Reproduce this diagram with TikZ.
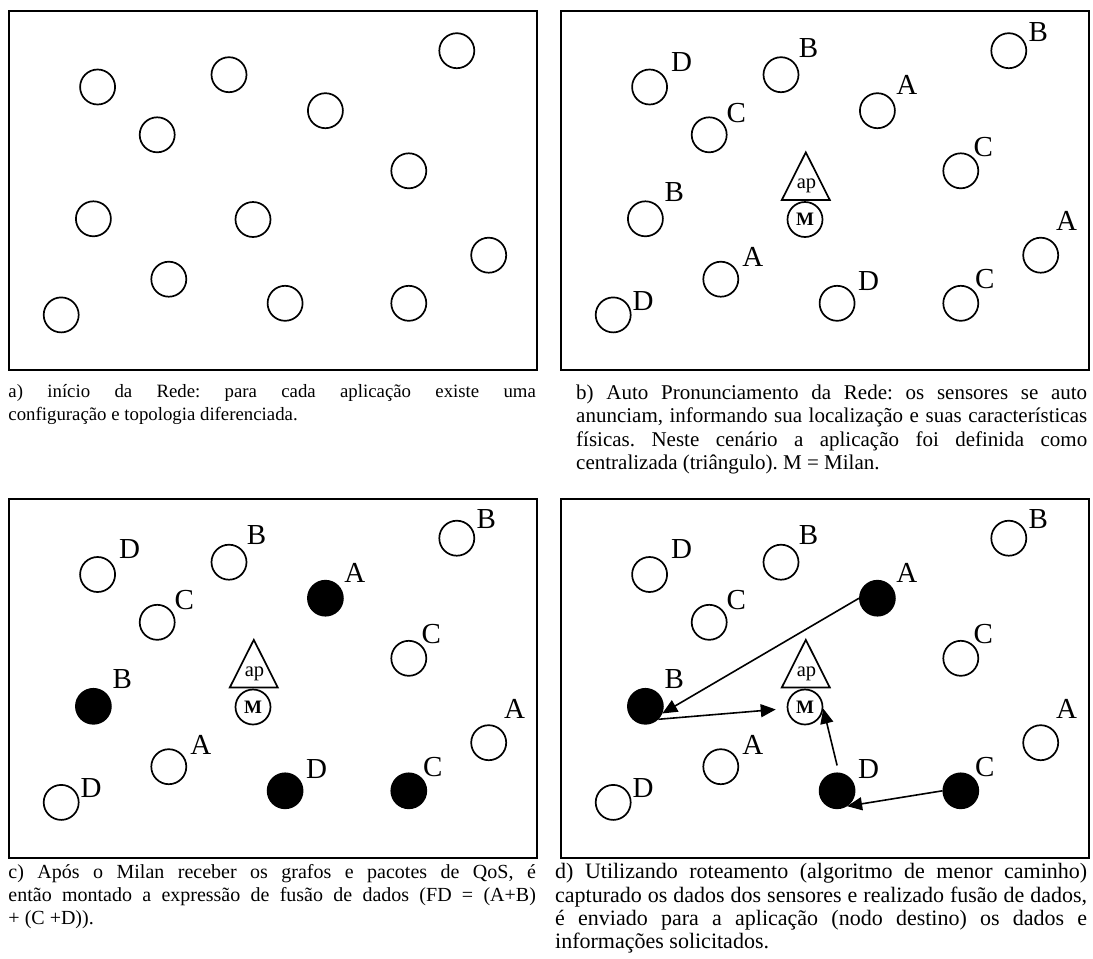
\documentclass[tikz,border=0pt]{standalone}
\usepackage{fontspec}
\setmainfont{Liberation Serif}
\usetikzlibrary{arrows.meta}
\frenchspacing
\begin{document}
\begin{tikzpicture}[x=1pt,y=-1pt,
  frame/.style={draw,line width=2pt,anchor=north west,minimum width=527.4pt,minimum height=359pt,inner sep=0pt},
  sensor/.style={circle,draw,line width=1.7pt,minimum size=35pt,inner sep=0pt},
  tag/.style={inner sep=0pt,font=\fontsize{29}{29}\selectfont},
  milan/.style={sensor,font=\fontsize{19}{19}\selectfont\bfseries},
  apptri/.style={draw,line width=1.7pt,line join=miter},
  aplabel/.style={inner sep=0pt,font=\fontsize{20.5}{20.5}\selectfont},
  route/.style={line width=1.6pt,-{Triangle[length=15pt,width=13pt]}},
  caption/.style={anchor=north west,inner sep=0pt,align=justify}
]
\useasboundingbox (0,0) rectangle (1093,959);

% sensor field: index / x / y / cluster letter / letter offset / fill once selected
\def\fielddata{1/97.6/87/D/32/-25/white,2/229/74.7/B/27.5/-27/white,3/456.8/50.7/B/29.5/-19/white,4/157.2/134.8/C/27/-22/white,5/325.4/110.7/A/29.5/-25.5/black,6/408.8/170.8/C/22.5/-24/white,7/93.4/218.8/B/29/-27/black,9/488.7/255.2/A/26/-34/white,10/168.8/279.2/A/32/-22/white,11/61.2/314.9/D/30/-14/white,12/285.1/303.3/D/31.5/-22/black,13/408.8/303.3/C/24/-24/black}

% (a) initial network
\node[frame] (a-frame) at (8.3,10.3) {};
\foreach \n/\px/\py/\lt/\dx/\dy/\fc in \fielddata
  \node[sensor] (a\n) at (\px,\py) {};
\node[sensor] (a8) at (253,219.5) {};

% (b) self-announcement
\begin{scope}[shift={(552,0)}]
  \node[frame] (b-frame) at (8.3,10.3) {};
  \foreach \n/\px/\py/\lt/\dx/\dy/\fc in \fielddata {
    \node[sensor] (b\n) at (\px,\py) {};
    \node[tag] (b\n-tag) at (\px+\dx,\py+\dy) {\lt};
  }
  \draw[apptri] (253.8,152.3) -- (277.8,200) -- (229.8,200) -- cycle;
  \node[aplabel] (b-ap) at (254.5,186) {ap};
  \node[milan] (bM) at (253,219.5) {M};
\end{scope}

% (c) fusion expression
\begin{scope}[shift={(0,487.5)}]
  \node[frame] (c-frame) at (8.3,10.3) {};
  \foreach \n/\px/\py/\lt/\dx/\dy/\fc in \fielddata {
    \node[sensor,fill=\fc] (c\n) at (\px,\py) {};
    \node[tag] (c\n-tag) at (\px+\dx,\py+\dy) {\lt};
  }
  \draw[apptri] (253.8,152.3) -- (277.8,200) -- (229.8,200) -- cycle;
  \node[aplabel] (c-ap) at (254.5,186) {ap};
  \node[milan] (cM) at (253,219.5) {M};
\end{scope}

% (d) routing to the sink
\begin{scope}[shift={(552,487.5)}]
  \node[frame] (d-frame) at (8.3,10.3) {};
  \foreach \n/\px/\py/\lt/\dx/\dy/\fc in \fielddata {
    \node[sensor,fill=\fc] (d\n) at (\px,\py) {};
    \node[tag] (d\n-tag) at (\px+\dx,\py+\dy) {\lt};
  }
  \draw[apptri] (253.8,152.3) -- (277.8,200) -- (229.8,200) -- cycle;
  \node[aplabel] (d-ap) at (254.5,186) {ap};
  \node[milan] (dM) at (253,219.5) {M};
\end{scope}
\draw[route] (d5.west) -- (d7.-23);
\draw[route,shorten >=11pt] (d7.-45) -- (dM);
\draw[route] ([yshift=7pt]d12.north) -- (dM.-5);
\draw[route] (d13.west) -- (d12.-57);

% captions
\node[caption,text width=527.4pt,font=\fontsize{18.8}{22.8}\selectfont] (a-cap) at (8.3,384.5)
  {a) início da Rede: para cada aplicação existe uma\linebreak
   configuração e topologia diferenciada.};
\node[caption,text width=511pt,font=\fontsize{21}{23.5}\selectfont] (b-cap) at (576,384.5)
  {b) Auto Pronunciamento da Rede: os sensores se auto\linebreak
   anunciam, informando sua localização e suas características\linebreak
   físicas. Neste cenário a aplicação foi definida como\linebreak
   centralizada (triângulo). M = Milan.};
\node[caption,text width=527.4pt,font=\fontsize{20}{23}\selectfont] (c-cap) at (8.3,864)
  {c) Após o Milan receber os grafos e pacotes de QoS, é\linebreak
   então montado a expressão de fusão de dados (FD = (A+B)\linebreak
   + (C +D)).};
\node[caption,text width=532pt,font=\fontsize{22}{23.3}\selectfont] (d-cap) at (555,863.5)
  {d) Utilizando roteamento (algoritmo de menor caminho)\linebreak
   capturado os dados dos sensores e realizado fusão de dados,\linebreak
   é enviado para a aplicação (nodo destino) os dados e\linebreak
   informações solicitados.};
\end{tikzpicture}
\end{document}
